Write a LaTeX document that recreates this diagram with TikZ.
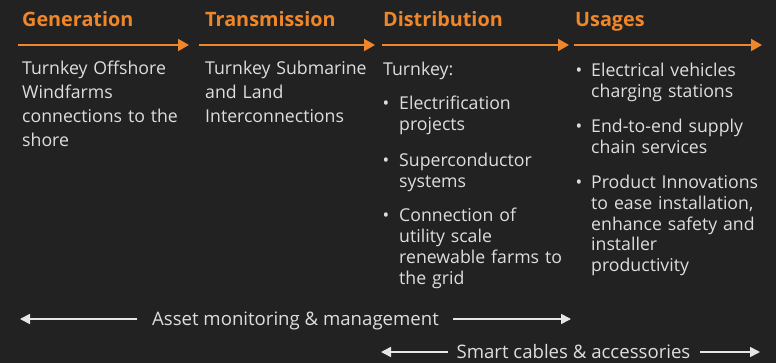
\documentclass[tikz,border=0pt]{standalone}
\usepackage{fontspec}
\setmainfont{Open Sans}
\usetikzlibrary{arrows.meta}
\definecolor{bg}{HTML}{222222}
\definecolor{org}{HTML}{F0862A}
\definecolor{txt}{HTML}{DEDEDE}
\definecolor{arr}{HTML}{E6E6E6}
\begin{document}
\begin{tikzpicture}[x=1pt,y=-1pt,
 head/.style={anchor=base west,inner sep=0pt,text=org,font=\fontsize{19.8}{24}\selectfont\bfseries},
 body/.style={anchor=base west,inner sep=0pt,text=txt,align=left,font=\fontsize{17.7}{24}\selectfont},
 item/.style={anchor=base west,inner sep=0pt,text=txt,align=left,font=\fontsize{17.7}{20.8}\selectfont},
 dot/.style={anchor=base,inner sep=0pt,text=txt,font=\fontsize{17.7}{20.8}\selectfont},
 flow/.style={draw=org,line width=2pt,-{Triangle[length=11pt,width=12pt]}},
 both/.style={draw=arr,line width=1.6pt,-{Triangle[length=10pt,width=10pt]}},
 lab/.style={anchor=base,inner sep=0pt,text=txt,font=\fontsize{18.6}{22}\selectfont}
]
\fill[bg] (0,0) rectangle (776,363);
\useasboundingbox (0,0) rectangle (776,363);

% headings
\node[head] (h1) at (22,27) {Generation};
\node[head] (h2) at (205,27) {Transmission};
\node[head] (h3) at (383,27) {Distribution};
\node[head] (h4) at (575,27) {Usages};

% flow arrows
\coordinate (a1s) at (18,45);  \coordinate (a1e) at (189,45);
\coordinate (a2s) at (199,45); \coordinate (a2e) at (375,45);
\coordinate (a3s) at (382,45); \coordinate (a3e) at (569,45);
\coordinate (a4s) at (574,45); \coordinate (a4e) at (762,45);
\draw[flow] (a1s) -- (a1e);
\draw[flow] (a2s) -- (a2e);
\draw[flow] (a3s) -- (a3e);
\draw[flow] (a4s) -- (a4e);

% column 1 and 2
\node[body,text width=175pt] (c1) at (22,75) {Turnkey Offshore\\Windfarms\\connections to the\\shore};
\node[body,text width=175pt] (c2) at (205,75) {Turnkey Submarine\\and Land\\Interconnections};

% column 3
\node[item,text width=180pt] (c3) at (383,76) {Turnkey:};
\node[dot] (d31) at (386,110) {•};
\node[item,text width=170pt] (i31) at (399,110) {Electrification\\projects};
\node[dot] (d32) at (386,166.5) {•};
\node[item,text width=170pt] (i32) at (399,166.5) {Superconductor\\systems};
\node[dot] (d33) at (386,222) {•};
\node[item,text width=170pt] (i33) at (399,222) {Connection of\\utility scale\\renewable farms to\\the grid};

% column 4
\node[dot] (d41) at (579,76.5) {•};
\node[item,text width=180pt] (i41) at (591,76.5) {Electrical vehicles\\charging stations};
\node[dot] (d42) at (579,132.5) {•};
\node[item,text width=180pt] (i42) at (591,132.5) {End-to-end supply\\chain services};
\node[dot] (d43) at (579,188.5) {•};
\node[item,text width=180pt] (i43) at (591,188.5) {Product Innovations\\to ease installation,\\enhance safety and\\installer\\productivity};

% bottom bands
\node[lab] (l1) at (295.5,325) {Asset monitoring \& management};
\coordinate (l1a) at (137,319); \coordinate (l1b) at (20,319);
\coordinate (l1c) at (453,319); \coordinate (l1d) at (571,319);
\draw[both] (l1a) -- (l1b);
\draw[both] (l1c) -- (l1d);

\node[lab] (l2) at (573.5,358) {Smart cables \& accessories};
\coordinate (l2a) at (448,352); \coordinate (l2b) at (381,352);
\coordinate (l2c) at (700,352); \coordinate (l2d) at (760,352);
\draw[both] (l2a) -- (l2b);
\draw[both] (l2c) -- (l2d);
\end{tikzpicture}
\end{document}
